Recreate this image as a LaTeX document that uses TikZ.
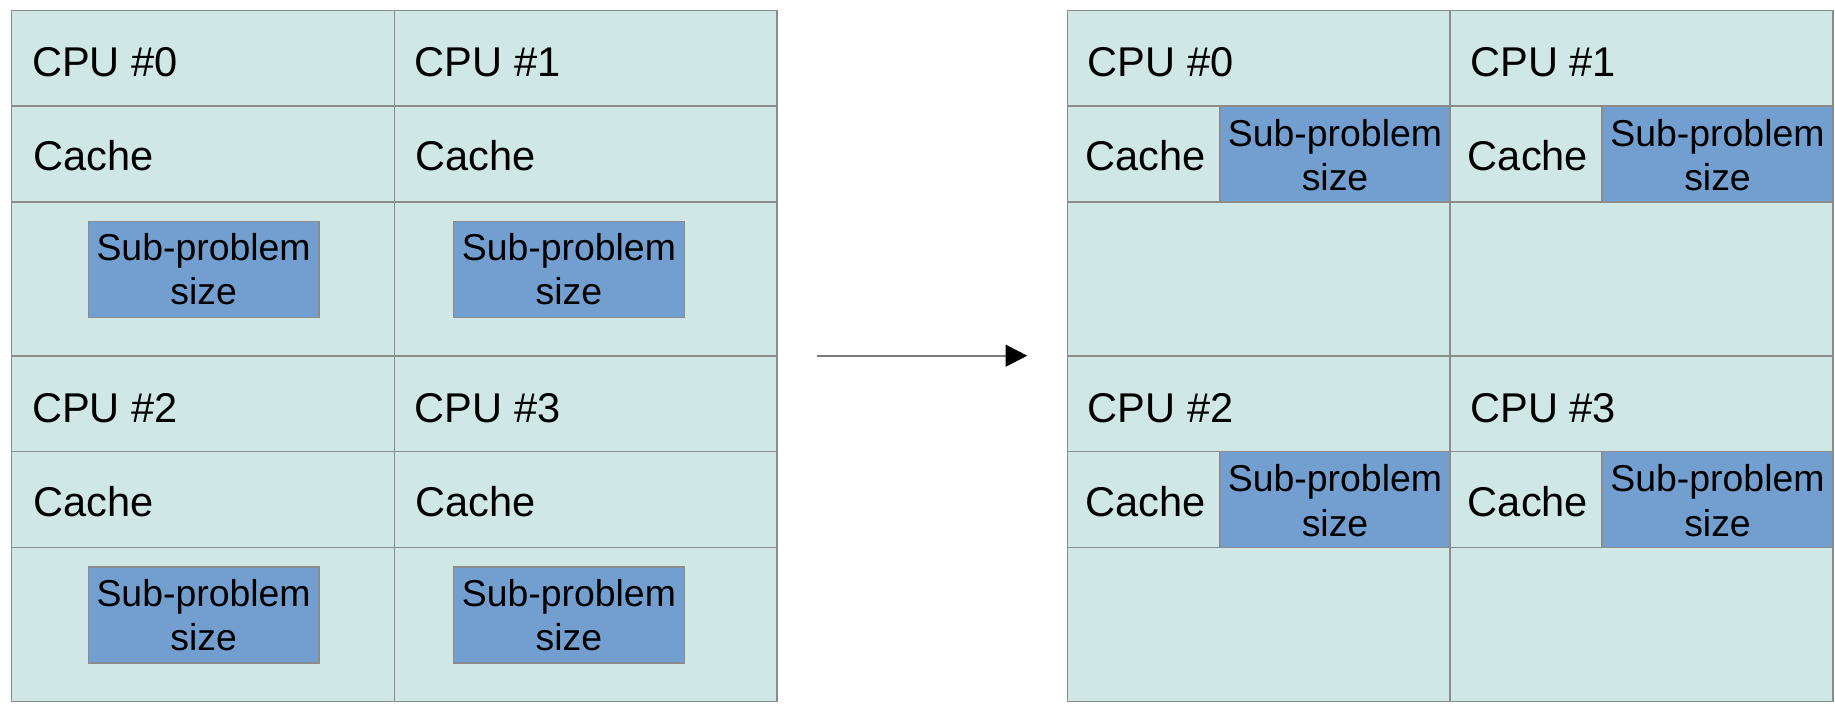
\documentclass[tikz,border=0pt]{standalone}
\usepackage{fontspec}
\setmainfont{Liberation Sans}
\usetikzlibrary{fit,arrows.meta}

\definecolor{cellfill}{HTML}{D0E8E5}
\definecolor{cellline}{HTML}{8C8C8C}
\definecolor{subfill}{HTML}{729FCF}
\definecolor{arrowline}{HTML}{7A7A7A}

\tikzset{
  cell/.style={draw=cellline, fill=cellfill, line width=0.6pt, inner sep=0pt, outer sep=0pt},
  subbox/.style={draw=cellline, fill=subfill, line width=0.6pt, inner sep=0pt, outer sep=0pt},
  subtxt/.style={inner sep=0pt, align=center, font=\fontsize{18.7}{22.15}\selectfont},
  lbl/.style={inner sep=0pt, font=\fontsize{20.8}{24}\selectfont},
}

% One processor with its cache and a sub-problem kept in memory below it.
% #1 name, #2 left x, #3 right x, #4 top y, #5 CPU label, #6/#7 sub-problem box x range
\newcommand{\memunit}[7]{%
  \node[cell, fit={(#2,#4) (#3,#4+95.7)}] (#1cpu) {};
  \node[lbl, anchor=west] (#1cpulbl) at ([xshift=10pt,yshift=-2pt]#1cpu.west) {#5};
  \node[cell, fit={(#2,#4+95.7) (#3,#4+191.7)}] (#1cache) {};
  \node[lbl, anchor=west] (#1cachelbl) at ([xshift=10.5pt,yshift=-1pt]#1cache.west) {Cache};
  \node[cell, fit={(#2,#4+191.7) (#3,#4+345.4)}] (#1mem) {};
  \node[subbox, fit={(#6,#4+211) (#7,#4+307)}] (#1sub) {};
  \node[subtxt] (#1sublbl) at (#1sub.center) {Sub-problem\\size};
}

% One processor whose sub-problem sits next to the cache.
% #1 name, #2 left x, #3 cache/sub split x, #4 right x, #5 top y, #6 CPU label
\newcommand{\cacheunit}[6]{%
  \node[cell, fit={(#2,#5) (#4,#5+95.7)}] (#1cpu) {};
  \node[lbl, anchor=west] (#1cpulbl) at ([xshift=10pt,yshift=-2pt]#1cpu.west) {#6};
  \node[cell, fit={(#2,#5+95.7) (#3,#5+191.7)}] (#1cache) {};
  \node[lbl] (#1cachelbl) at ([xshift=1pt,yshift=-1pt]#1cache.center) {Cache};
  \node[subbox, fit={(#3,#5+95.7) (#4,#5+191.7)}] (#1sub) {};
  \node[subtxt] (#1sublbl) at ([yshift=-0.5pt]#1sub.center) {Sub-problem\\size};
  \node[cell, fit={(#2,#5+191.7) (#4,#5+345.4)}] (#1mem) {};
}

\begin{document}
\begin{tikzpicture}[x=0.5pt, y=-0.5pt]
  \useasboundingbox (0,0) rectangle (1835,706);

  % left layout: sub-problems in main memory
  \memunit{a}{11.7}{394.4}{10.3}{CPU \#0}{88.3}{318.9}
  \memunit{b}{394.4}{777}{10.3}{CPU \#1}{453.6}{684.2}
  \memunit{c}{11.7}{394.4}{356}{CPU \#2}{88.3}{318.9}
  \memunit{d}{394.4}{777}{356}{CPU \#3}{453.6}{684.2}

  % right layout: sub-problems sized to fit the cache
  \cacheunit{e}{1067.5}{1220}{1450}{10.3}{CPU \#0}
  \cacheunit{f}{1450}{1602}{1833}{10.3}{CPU \#1}
  \cacheunit{g}{1067.5}{1220}{1450}{356}{CPU \#2}
  \cacheunit{h}{1450}{1602}{1833}{356}{CPU \#3}

  % transition arrow
  \coordinate (arrowfrom) at (816.7,355.7);
  \coordinate (arrowto) at (1027.3,355.7);
  \draw[arrowline, line width=1pt,
        -{Triangle[length=10.8pt, width=10.8pt, color=black]}] (arrowfrom) -- (arrowto);
\end{tikzpicture}
\end{document}
